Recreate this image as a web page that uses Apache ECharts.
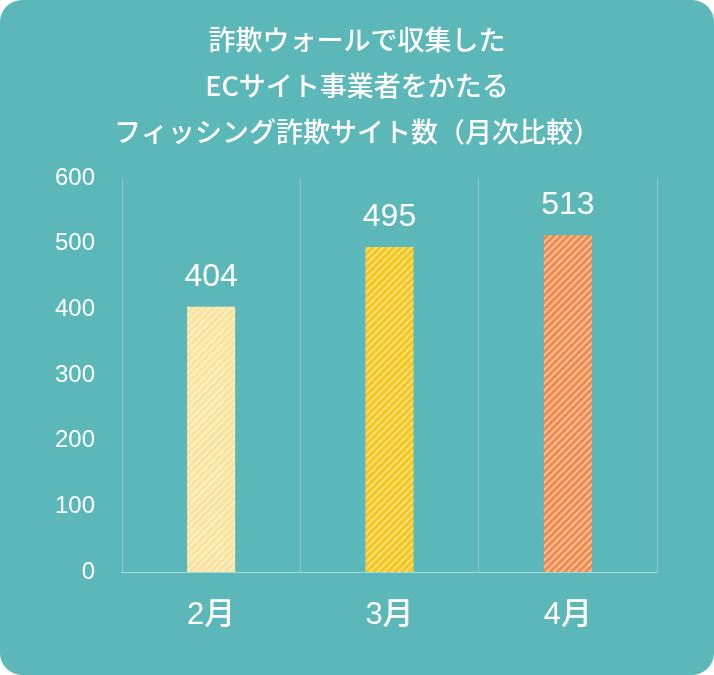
<!DOCTYPE html>
<html><head><meta charset="utf-8">
<script src="https://cdn.jsdelivr.net/npm/echarts@6/dist/echarts.min.js"></script>
<style>html,body{margin:0;background:#fff}#c{width:714px;height:675px;background:#5bb7b8;border-radius:22px;overflow:hidden}</style>
</head><body><div id="c"></div>
<script>
var months = ['2月', '3月', '4月'];
var counts = [404, 495, 513];
var barColors = ['#f9e29a', '#f5c518', '#f08a4b'];
var titleText = '詐欺ウォールで収集した\nECサイト事業者をかたる\nフィッシング詐欺サイト数（月次比較）';

var font = '"Noto Sans CJK JP", "Noto Sans", sans-serif';
var numFont = '"Liberation Sans", Arial, sans-serif';
echarts.init(document.getElementById('c')).setOption({
    title: {
        text: titleText, left: 'center', top: 12,
        textStyle: {color: '#fff', fontSize: 27, fontWeight: 500, lineHeight: 46, fontFamily: font}
    },
    grid: {left: 122, right: 57, top: 178, bottom: 103},
    xAxis: {
        type: 'category', data: months,
        axisLine: {lineStyle: {color: '#a9dada'}}, axisTick: {show: false},
        splitLine: {show: true, lineStyle: {color: '#86cccc'}},
        axisLabel: {color: '#fff', fontSize: 31, fontWeight: 500, margin: 28, fontFamily: numFont + ',' + font}
    },
    yAxis: {
        type: 'value', min: 0, max: 600, interval: 100,
        splitLine: {show: false},
        axisLabel: {color: '#fff', fontSize: 24, margin: 27, fontFamily: numFont}
    },
    series: [{
        type: 'bar', barWidth: 48,
        data: counts.map(function(v, i) {
            return {value: v, itemStyle: {color: barColors[i]}};
        }),
        itemStyle: {
            decal: {symbol: 'rect', dashArrayX: [1, 0], dashArrayY: [2, 3], rotation: -Math.PI / 4, color: 'rgba(255,255,255,0.45)'}
        },
        label: {show: true, position: 'top', distance: 14, color: '#fff', fontSize: 32, fontFamily: numFont}
    }]
});
</script></body></html>
